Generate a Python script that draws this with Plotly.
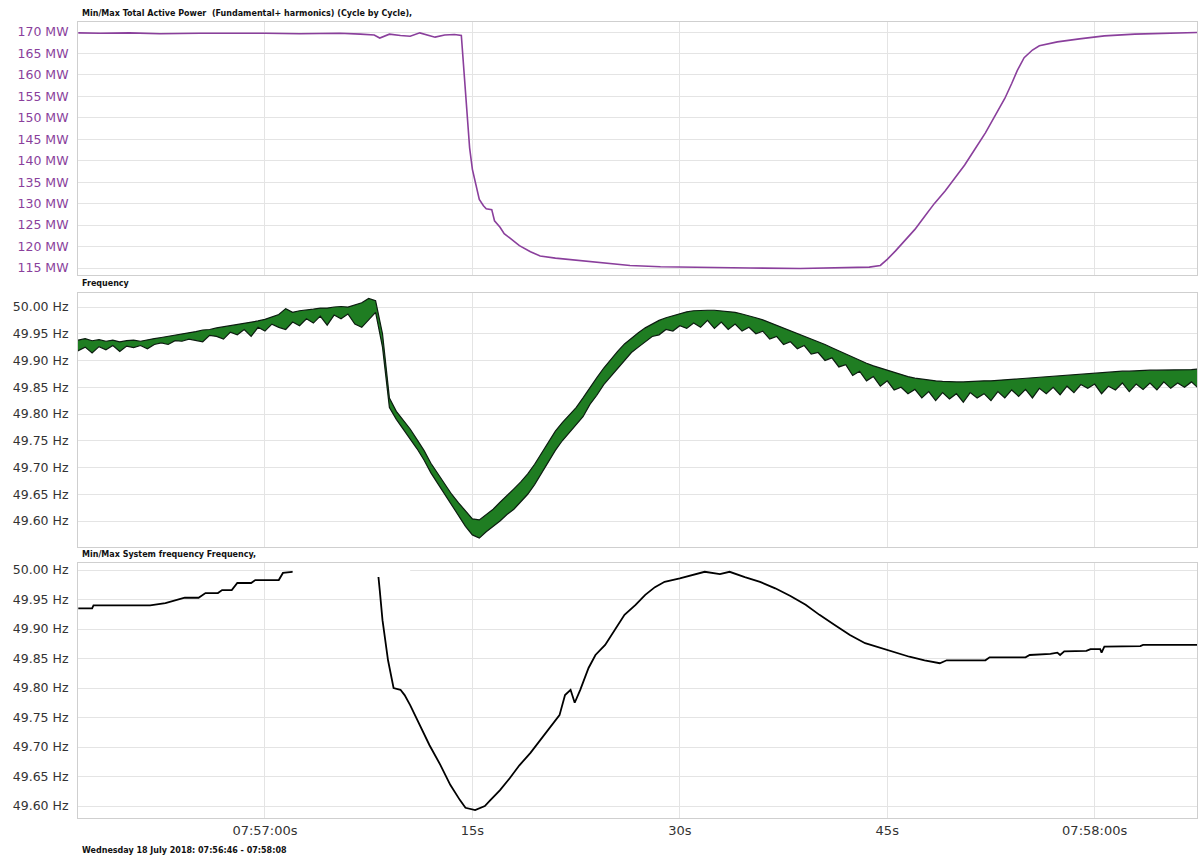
import plotly.graph_objects as go

# ---------------- data (time axis = seconds after 07:56:46) ----------------
POWER_T = [0.5, 2.1, 4.2, 6.4, 9.3, 12.2, 14.0, 16.5, 19.4, 20.9, 21.9, 22.3, 23.0, 23.8,
           24.5, 25.2, 25.8, 26.3, 27.0, 27.7, 28.2, 28.4, 28.6, 28.8, 29.0, 29.3, 29.5,
           29.8, 30.0, 30.4, 30.6, 31.0, 31.3, 31.7, 32.1, 32.4, 33.2, 33.9, 35.0, 36.0,
           37.5, 38.9, 40.4, 42.6, 45.5, 49.1, 52.7, 55.6, 57.7, 58.5, 59.0, 59.6, 60.3,
           61.0, 61.7, 62.4, 63.2, 63.9, 64.6, 65.3, 66.1, 66.8, 67.5, 68.0, 68.4, 68.9,
           69.5, 70.0, 70.8, 71.3, 72.9, 74.7, 76.9, 81.4]
POWER_MW = [169.8, 169.7, 169.8, 169.6, 169.7, 169.8, 169.7, 169.6, 169.7, 169.5, 169.3,
            168.6, 169.5, 169.2, 169.0, 169.8, 169.2, 168.8, 169.3, 169.4, 169.2, 160.0,
            150.0, 143.0, 138.0, 134.0, 131.0, 129.5, 128.8, 128.6, 126.0, 124.5, 123.0,
            122.0, 121.0, 120.2, 118.8, 117.8, 117.3, 117.0, 116.5, 116.0, 115.6, 115.3,
            115.1, 115.0, 114.9, 115.0, 115.2, 115.6, 117.0, 119.0, 121.5, 124.0, 127.0,
            130.0, 133.0, 136.0, 139.0, 142.5, 146.5, 150.5, 154.5, 158.0, 161.0, 164.0,
            165.8, 166.8, 167.3, 167.7, 168.4, 169.1, 169.5, 169.9]

FREQ_T = [0, 0.5, 1, 1.5, 2, 2.5, 3, 3.5, 4, 4.5, 5, 5.5,
          6, 6.5, 7, 7.5, 8, 8.5, 9, 9.5, 10, 10.5, 11, 11.5,
          12, 12.5, 13, 13.5, 14, 14.5, 15, 15.5, 16, 16.5, 17, 17.5,
          18, 18.5, 19, 19.5, 20, 20.5, 21, 21.5, 22, 22.5, 23, 23.5,
          24, 24.5, 25, 25.5, 26, 26.5, 27, 27.5, 28, 28.5, 29, 29.5,
          30, 30.5, 31, 31.5, 32, 32.5, 33, 33.5, 34, 34.5, 35, 35.5,
          36, 36.5, 37, 37.5, 38, 38.5, 39, 39.5, 40, 40.5, 41, 41.5,
          42, 42.5, 43, 43.5, 44, 44.5, 45, 45.5, 46, 46.5, 47, 47.5,
          48, 48.5, 49, 49.5, 50, 50.5, 51, 51.5, 52, 52.5, 53, 53.5,
          54, 54.5, 55, 55.5, 56, 56.5, 57, 57.5, 58, 58.5, 59, 59.5,
          60, 60.5, 61, 61.5, 62, 62.5, 63, 63.5, 64, 64.5, 65, 65.5,
          66, 66.5, 67, 67.5, 68, 68.5, 69, 69.5, 70, 70.5, 71, 71.5,
          72, 72.5, 73, 73.5, 74, 74.5, 75, 75.5, 76, 76.5, 77, 77.5,
          78, 78.5, 79, 79.5, 80, 80.5, 81, 81.5, 82]
FREQ_MAX = [49.940, 49.938, 49.941, 49.937, 49.939, 49.936, 49.938, 49.935, 49.937, 49.938, 49.936, 49.939,
            49.941, 49.943, 49.945, 49.947, 49.949, 49.952, 49.954, 49.957, 49.958, 49.961, 49.963, 49.965,
            49.968, 49.970, 49.972, 49.974, 49.977, 49.981, 49.986, 49.997, 49.990, 49.993, 49.994, 49.996,
            49.998, 49.998, 50.000, 50.001, 50.000, 50.004, 50.008, 50.016, 50.012, 49.950, 49.830, 49.805,
            49.788, 49.772, 49.752, 49.732, 49.708, 49.688, 49.668, 49.650, 49.634, 49.618, 49.604, 49.602,
            49.612, 49.622, 49.635, 49.647, 49.660, 49.673, 49.688, 49.706, 49.727, 49.748, 49.768, 49.784,
            49.798, 49.812, 49.830, 49.850, 49.868, 49.886, 49.902, 49.917, 49.931, 49.942, 49.952, 49.961,
            49.968, 49.975, 49.980, 49.984, 49.988, 49.991, 49.993, 49.994, 49.994, 49.994, 49.993, 49.992,
            49.990, 49.987, 49.984, 49.980, 49.976, 49.971, 49.966, 49.961, 49.955, 49.950, 49.946, 49.941,
            49.935, 49.930, 49.924, 49.918, 49.912, 49.906, 49.900, 49.895, 49.890, 49.886, 49.881, 49.877,
            49.873, 49.870, 49.867, 49.865, 49.863, 49.862, 49.861, 49.860, 49.860, 49.860, 49.861, 49.861,
            49.862, 49.862, 49.863, 49.864, 49.865, 49.866, 49.866, 49.867, 49.868, 49.869, 49.870, 49.871,
            49.872, 49.873, 49.874, 49.875, 49.876, 49.877, 49.878, 49.879, 49.880, 49.880, 49.881, 49.881,
            49.882, 49.882, 49.882, 49.883, 49.883, 49.883, 49.883, 49.884, 49.884]
FREQ_MIN = [49.912, 49.918, 49.925, 49.914, 49.926, 49.920, 49.928, 49.917, 49.927, 49.924, 49.928, 49.922,
            49.930, 49.933, 49.930, 49.937, 49.936, 49.940, 49.938, 49.935, 49.947, 49.945, 49.940, 49.953,
            49.948, 49.958, 49.945, 49.962, 49.955, 49.968, 49.962, 49.958, 49.972, 49.965, 49.978, 49.970,
            49.983, 49.966, 49.985, 49.978, 49.987, 49.968, 49.962, 49.975, 49.990, 49.925, 49.812, 49.790,
            49.772, 49.755, 49.735, 49.714, 49.690, 49.670, 49.650, 49.630, 49.610, 49.590, 49.574, 49.568,
            49.580, 49.590, 49.600, 49.612, 49.622, 49.636, 49.650, 49.668, 49.690, 49.712, 49.732, 49.750,
            49.765, 49.782, 49.795, 49.818, 49.835, 49.855, 49.870, 49.885, 49.900, 49.915, 49.925, 49.935,
            49.945, 49.948, 49.958, 49.955, 49.965, 49.960, 49.970, 49.962, 49.975, 49.960, 49.972, 49.958,
            49.968, 49.955, 49.962, 49.950, 49.955, 49.940, 49.945, 49.930, 49.935, 49.922, 49.928, 49.912,
            49.915, 49.900, 49.905, 49.888, 49.892, 49.872, 49.880, 49.862, 49.870, 49.852, 49.862, 49.845,
            49.850, 49.838, 49.846, 49.830, 49.842, 49.825, 49.840, 49.828, 49.838, 49.822, 49.840, 49.830,
            49.838, 49.825, 49.842, 49.830, 49.845, 49.833, 49.846, 49.830, 49.848, 49.838, 49.850, 49.836,
            49.852, 49.840, 49.855, 49.848, 49.856, 49.838, 49.852, 49.845, 49.858, 49.842, 49.856, 49.846,
            49.858, 49.845, 49.860, 49.848, 49.858, 49.850, 49.860, 49.848, 49.858]

SYS_T = [0.5, 1.5, 1.6, 5.7, 6.8, 8.2, 9.2, 9.7, 10.6, 10.9, 11.6, 12.0, 13.0, 13.3, 15.0,
         15.3, 16.5, 19.4, 21.6, 22.2, 22.3, 22.5, 22.9, 23.3, 23.8, 24.1, 24.5, 25.2,
         25.9, 26.7, 27.4, 28.1, 28.5, 29.2, 29.9, 30.3, 31.0, 31.7, 32.4, 33.2, 33.9,
         34.6, 35.3, 35.7, 36.1, 36.4, 36.8, 37.4, 37.9, 38.6, 39.3, 40.0, 40.8, 41.5,
         42.2, 42.9, 44.0, 45.1, 45.8, 46.9, 47.6, 48.7, 49.8, 50.9, 52.0, 53.1, 54.1,
         55.2, 56.3, 57.4, 58.5, 59.6, 60.6, 61.7, 62.8, 63.3, 66.1, 66.4, 69.0, 69.3,
         70.8, 71.3, 71.5, 71.8, 73.4, 73.7, 74.4, 74.5, 74.7, 77.3, 77.5, 81.4]
SYS_HZ = [49.935, 49.935, 49.940, 49.940, 49.944, 49.953, 49.953, 49.961, 49.961, 49.966,
          49.966, 49.978, 49.978, 49.983, 49.983, 49.995, 49.998, 50.000, 50.005, 49.990,
          49.966, 49.915, 49.847, 49.800, 49.797, 49.788, 49.771, 49.737, 49.703, 49.669,
          49.636, 49.610, 49.597, 49.593, 49.600, 49.610, 49.627, 49.647, 49.669, 49.690,
          49.712, 49.732, 49.754, 49.788, 49.797, 49.775, 49.797, 49.834, 49.856, 49.873,
          49.898, 49.924, 49.941, 49.958, 49.971, 49.980, 49.986, 49.992, 49.997, 49.993,
          49.997, 49.988, 49.980, 49.969, 49.956, 49.941, 49.924, 49.907, 49.890, 49.876,
          49.868, 49.861, 49.853, 49.847, 49.842, 49.847, 49.847, 49.852, 49.852, 49.856,
          49.858, 49.860, 49.856, 49.862, 49.863, 49.866, 49.866, 49.860, 49.870, 49.871,
          49.873, 49.873]

X_TICKS = [14, 29, 44, 59, 74]
X_TICK_TEXT = ["07:57:00s", "15s", "30s", "45s", "07:58:00s"]
MW_TICKS = [115, 120, 125, 130, 135, 140, 145, 150, 155, 160, 165, 170]
HZ_TICKS = [49.60, 49.65, 49.70, 49.75, 49.80, 49.85, 49.90, 49.95, 50.00]

TITLE_1 = "Min/Max Total Active Power  (Fundamental+ harmonics) (Cycle by Cycle),"
TITLE_2 = "Frequency"
TITLE_3 = "Min/Max System frequency Frequency,"
FOOTER = "Wednesday 18 July 2018: 07:56:46 - 07:58:08"

# ---------------- styling ----------------
W, H = 1199, 857
M_L, M_R, M_T, M_B = 78, 2, 22, 39
PH = H - M_T - M_B


def py(pix):
    return 1 - (pix - M_T) / PH


PURPLE = "#8a3f9c"
GRID = "#e4e4e4"
FRAME = "#cfcfcf"
TXT = "#333333"
FONT = "DejaVu Sans"

fig = go.Figure()
fig.add_trace(go.Scatter(x=POWER_T, y=POWER_MW, mode="lines", xaxis="x", yaxis="y",
                         line=dict(color=PURPLE, width=1.6), showlegend=False))
fig.add_trace(go.Scatter(x=FREQ_T, y=FREQ_MAX, mode="lines", xaxis="x2", yaxis="y2",
                         line=dict(color="#0c1c10", width=1.2), showlegend=False))
fig.add_trace(go.Scatter(x=FREQ_T, y=FREQ_MIN, mode="lines", xaxis="x2", yaxis="y2",
                         line=dict(color="#0c1c10", width=1.2), fill="tonexty",
                         fillcolor="#1f7d22", showlegend=False))
fig.add_trace(go.Scatter(x=SYS_T, y=SYS_HZ, mode="lines", xaxis="x3", yaxis="y3",
                         line=dict(color="black", width=1.8), showlegend=False))

X_RANGE = [0.48, 81.4]
xcommon = dict(range=X_RANGE, tickvals=X_TICKS, ticktext=X_TICK_TEXT, showgrid=True,
               gridcolor=GRID, gridwidth=1, showline=True, linecolor=FRAME, mirror=True,
               zeroline=False, ticks="", tickfont=dict(family=FONT, size=13, color=TXT))
ycommon = dict(showgrid=True, gridcolor=GRID, gridwidth=1, showline=True, linecolor=FRAME,
               mirror=True, zeroline=False, ticks="", ticklabelstandoff=6,
               tickfont=dict(family=FONT, size=12.5, color=TXT))

fig.update_layout(
    width=W, height=H,
    margin=dict(l=M_L, r=M_R, t=M_T, b=M_B),
    paper_bgcolor="white", plot_bgcolor="white",
    xaxis=dict(**xcommon, anchor="y", showticklabels=False),
    xaxis2=dict(**xcommon, anchor="y2", showticklabels=False, matches="x"),
    xaxis3=dict(**xcommon, anchor="y3", showticklabels=True, matches="x"),
    yaxis=dict(**{**ycommon, "tickfont": dict(family=FONT, size=12.5, color=PURPLE)},
               domain=[py(275), py(22)], range=[113.37, 172.33],
               tickvals=MW_TICKS, ticktext=[f"{v} MW" for v in MW_TICKS]),
    yaxis2=dict(**ycommon, domain=[py(547), py(293)], range=[49.5514, 50.0262],
                tickvals=HZ_TICKS, ticktext=[f"{v:.2f} Hz" for v in HZ_TICKS]),
    yaxis3=dict(**ycommon, domain=[0, py(563)], range=[49.5797, 50.0119],
                tickvals=HZ_TICKS, ticktext=[f"{v:.2f} Hz" for v in HZ_TICKS]),
)

for text, pix in [(TITLE_1, 14), (TITLE_2, 284), (TITLE_3, 554)]:
    fig.add_annotation(text=f"<b>{text}</b>", xref="paper", yref="paper", x=0.0015,
                       y=py(pix), xanchor="left", yanchor="middle", showarrow=False,
                       font=dict(family=FONT, size=8, color="#111111"))
fig.add_annotation(text=f"<b>{FOOTER}</b>", xref="paper", yref="paper", x=0.0015,
                   y=py(850), xanchor="left", yanchor="middle", showarrow=False,
                   font=dict(family=FONT, size=8, color="#111111"))

# white label box that hides part of the bottom trace in the original
fig.add_shape(type="rect", xref="x3", yref="y3", x0=16.0, x1=24.5, y0=49.988, y1=50.0119,
              fillcolor="white", line=dict(width=0), layer="above")

fig.write_html("out.html")
